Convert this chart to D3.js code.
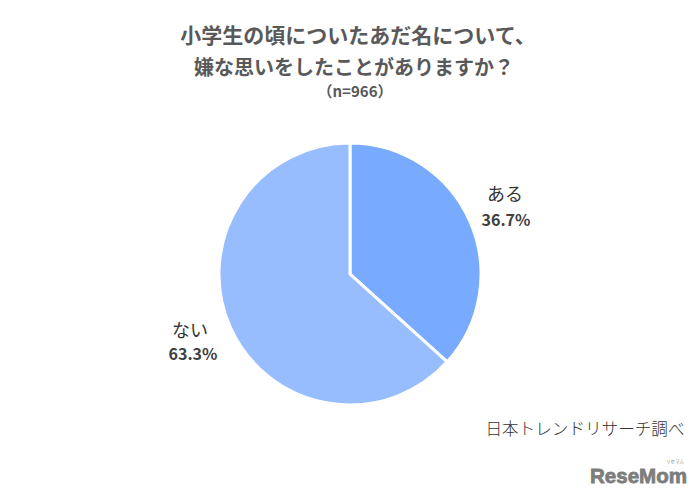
<!DOCTYPE html>
<html><head><meta charset="utf-8">
<script src="https://cdn.jsdelivr.net/npm/d3@7"></script>
<style>html,body{margin:0;padding:0;background:#fff}svg{display:block}</style>
</head><body><script>
const categories = ["ある","ない"];
const values = [36.7,63.3];
const valueLabels = ["36.7%","63.3%"];
const colors = ["#78aaff","#97bdff"];
const titleLines = ["小学生の頃についたあだ名について、","嫌な思いをしたことがありますか？"];
const subtitle = "（n=966）";
const source = "日本トレンドリサーチ調べ";
const brand = "ReseMom";
const brandRuby = "リセマム";

const jp = '"Noto Sans CJK JP","Noto Sans",sans-serif';
const svg = d3.select("body").append("svg").attr("width",700).attr("height",498);

const cx=350, cy=274, R=131;
const pie = d3.pie().sort(null).value(d=>d)(values);
const arc = d3.arc().innerRadius(0).outerRadius(R);
svg.append("g").attr("transform",`translate(${cx},${cy})`)
  .selectAll("path").data(pie).join("path")
  .attr("d",arc).attr("fill",(d,i)=>colors[i])
  .attr("stroke","#fff").attr("stroke-width",3).attr("stroke-linejoin","miter");

const txt=(x,y,s,size,weight,fill,anchor="middle")=>svg.append("text")
  .attr("x",x).attr("y",y).attr("text-anchor",anchor)
  .attr("font-family",jp).attr("font-size",size).attr("font-weight",weight).attr("fill",fill).text(s);

txt(358,43,titleLines[0],21,700,"#595959");
txt(354,75,titleLines[1],20,700,"#595959");
txt(355,97,subtitle,15,700,"#595959");

txt(505,201,categories[0],18,400,"#333333");
txt(506,226,valueLabels[0],16,700,"#404040");
txt(190,337,categories[1],18,400,"#333333");
txt(193,360,valueLabels[1],16,700,"#404040");

txt(585,435,source,16.6,300,"#333333");

svg.append("text").attr("x",590).attr("y",483)
  .attr("font-family",'"Liberation Sans",sans-serif').attr("font-size",21).attr("font-weight",700)
  .attr("fill","#7d7d7d").attr("stroke","#7d7d7d").attr("stroke-width",0.8)
  .attr("textLength",97).attr("lengthAdjust","spacingAndGlyphs").text(brand);
txt(675,463,brandRuby,4.5,400,"#8a8a8a");
</script></body></html>
